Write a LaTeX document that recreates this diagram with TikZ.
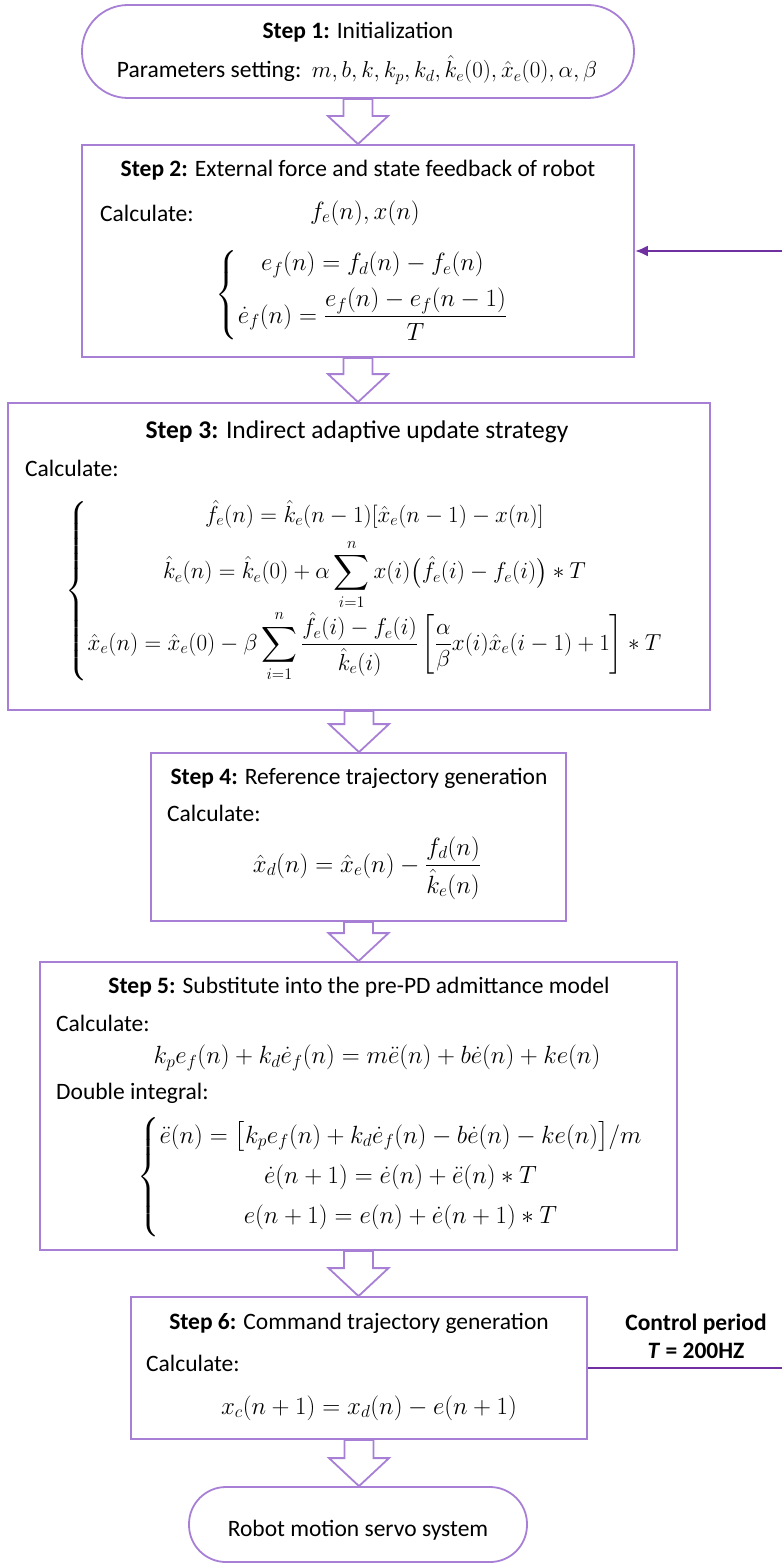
\RequirePackage{fix-cm}
\documentclass[tikz,border=0pt]{standalone}
\usepackage{amsmath}
\usepackage{fontspec}
\setmainfont{Carlito}
\usetikzlibrary{calc,arrows.meta}
\definecolor{boxc}{RGB}{167,128,214}
\definecolor{fbc}{RGB}{112,48,160}
\tikzset{
  txt/.style={font=\fontsize{23.5}{28}\selectfont, inner sep=0pt},
  mth/.style={font=\fontsize{24.9}{30}\selectfont, inner sep=0pt},
  box/.style={draw=boxc, line width=1.8pt, inner sep=0pt, fill=white},
  hollow/.style={draw=boxc, line width=1.8pt, fill=white, line join=miter},
  fb/.style={draw=fbc, line width=2.4pt}
}
\newcommand\blockarr[2]{%
  \draw[hollow] let \p1=(#1.south), \p2=(#2.north) in
    (\x1-14.5pt,\y1) -- (\x1+14.5pt,\y1) -- (\x1+14.5pt,\y2+28pt) -- (\x1+30pt,\y2+28pt)
    -- (\x1,\y2) -- (\x1-30pt,\y2+28pt) -- (\x1-14.5pt,\y2+28pt) -- cycle;}
\begin{document}
\begin{tikzpicture}[x=1pt,y=-1pt]
\useasboundingbox (0,0) rectangle (782,1565);
% boxes
\node[box, minimum width=552pt, minimum height=93pt, rounded corners=46pt] (s1) at (358,51.5) {};
\node[box, minimum width=552pt, minimum height=212pt] (s2) at (358,251) {};
\node[box, minimum width=702pt, minimum height=307pt] (s3) at (359,556.5) {};
\node[box, minimum width=415pt, minimum height=168pt] (s4) at (358.5,837) {};
\node[box, minimum width=637pt, minimum height=288pt] (s5) at (358.5,1106) {};
\node[box, minimum width=456pt, minimum height=142pt] (s6) at (359,1368) {};
\node[box, minimum width=338pt, minimum height=75pt, rounded corners=37pt] (s7) at (358,1524.5) {};
% block arrows
\blockarr{s1}{s2}
\blockarr{s2}{s3}
\blockarr{s3}{s4}
\blockarr{s4}{s5}
\blockarr{s5}{s6}
\blockarr{s6}{s7}
% feedback
\coordinate (fbin) at (782,251);
\coordinate (fbout) at (782,1368);
\draw[fb, -{Latex[length=13pt,width=11pt]}] (fbin) -- (s2.east);
\draw[fb] (s6.east) -- (fbout);
\node[txt, align=center, font=\fontsize{23.5}{28}\selectfont\bfseries] (cp) at (696,1336) {Control period\\\textit{T} = 200HZ};
% step 1
\node[txt] (t1) at (358,32) {\textbf{Step 1:} Initialization};
\node[txt] (p1) at (357,70) {Parameters setting:\ \ \fontsize{23}{28}\selectfont$m, b, k, k_p, k_d, \hat{k}_e(0), \hat{x}_e(0), \alpha, \beta$};
% step 2
\node[txt] (t2) at (358,170) {\textbf{Step 2:} External force and state feedback of robot};
\node[txt, anchor=west] (c2) at (100,213) {Calculate:};
\node[mth] (m2a) at (365,213) {$f_e(n), x(n)$};
\node[mth] (m2b) at (362,295) {$\left\{\begin{array}{@{}c@{}}
  e_f(n) = f_d(n) - f_e(n)\\[8pt]
  \dot{e}_f(n) = \dfrac{e_f(n) - e_f(n-1)}{T}
  \end{array}\right.$};
% step 3
\node[txt, font=\fontsize{25.5}{30}\selectfont] (t3) at (357,432) {\textbf{Step 3:} Indirect adaptive update strategy};
\node[txt, anchor=west] (c3) at (25,468) {Calculate:};
\node[mth, font=\fontsize{23.1}{28}\selectfont] (m3) at (364,591) {$\left\{\begin{array}{@{}c@{}}
  \hat{f}_e(n) = \hat{k}_e(n-1)[\hat{x}_e(n-1) - x(n)]\\[8pt]
  \hat{k}_e(n) = \hat{k}_e(0) + \alpha \displaystyle\sum_{i=1}^{n} x(i)\big(\hat{f}_e(i) - f_e(i)\big) * T\\[9pt]
  \hat{x}_e(n) = \hat{x}_e(0) - \beta \displaystyle\sum_{i=1}^{n} \frac{\hat{f}_e(i) - f_e(i)}{\hat{k}_e(i)}\left[\frac{\alpha}{\beta}x(i)\hat{x}_e(i-1) + 1\right] * T
  \end{array}\right.$};
% step 4
\node[txt] (t4) at (359,778) {\textbf{Step 4:} Reference trajectory generation};
\node[txt, anchor=west] (c4) at (167,813) {Calculate:};
\node[mth] (m4) at (367,868) {$\hat{x}_d(n) = \hat{x}_e(n) - \dfrac{f_d(n)}{\hat{k}_e(n)}$};
% step 5
\node[txt] (t5) at (359,987) {\textbf{Step 5:} Substitute into the pre-PD admittance model};
\node[txt, anchor=west] (c5) at (56,1023) {Calculate:};
\node[mth] (m5a) at (377,1058) {$k_p e_f(n) + k_d \dot{e}_f(n) = m\ddot{e}(n) + b\dot{e}(n) + ke(n)$};
\node[txt, anchor=west] (d5) at (56,1093) {Double integral:};
\node[mth] (m5b) at (390,1177) {$\left\{\begin{array}{@{}c@{}}
  \ddot{e}(n) = \big[k_p e_f(n) + k_d \dot{e}_f(n) - b\dot{e}(n) - ke(n)\big]/m\\[10pt]
  \dot{e}(n+1) = \dot{e}(n) + \ddot{e}(n) * T\\[10pt]
  e(n+1) = e(n) + \dot{e}(n+1) * T
  \end{array}\right.$};
% step 6
\node[txt] (t6) at (359,1323) {\textbf{Step 6:} Command trajectory generation};
\node[txt, anchor=west] (c6) at (146,1363) {Calculate:};
\node[mth] (m6) at (369,1408) {$x_c(n+1) = x_d(n) - e(n+1)$};
% terminal
\node[txt] (r7) at (358,1530) {Robot motion servo system};
\end{tikzpicture}
\end{document}
